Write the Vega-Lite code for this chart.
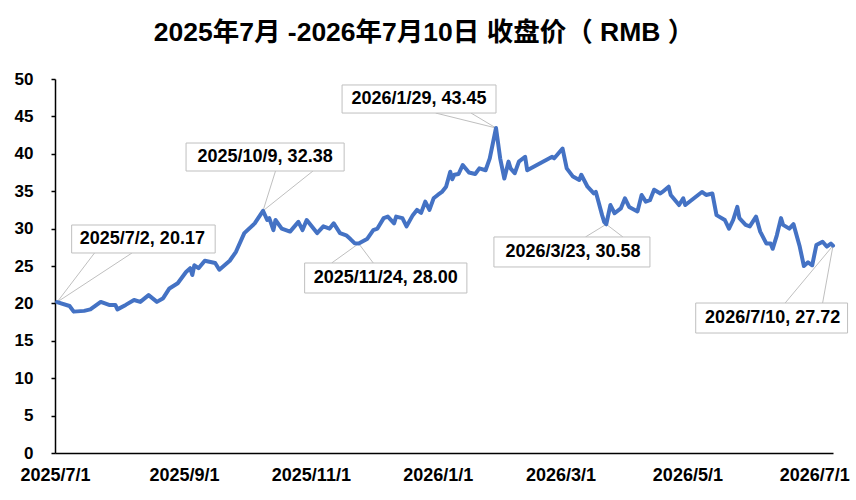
{
  "$schema": "https://vega.github.io/schema/vega-lite/v6.json",
  "autosize": "none",
  "width": 778,
  "height": 374,
  "padding": {"left": 55, "top": 79, "right": 23, "bottom": 47},
  "background": "white",
  "title": {
    "text": "2025年7月 -2026年7月10日 收盘价（ RMB ）",
    "font": "Liberation Sans, Noto Sans CJK SC",
    "fontSize": 26.5,
    "fontWeight": "bold",
    "color": "black",
    "anchor": "middle",
    "frame": "group",
    "dx": -20,
    "offset": 24
  },
  "config": {
    "view": {"stroke": null},
    "font": "Liberation Sans",
    "axis": {
      "domainColor": "black",
      "domainWidth": 1.5,
      "grid": false,
      "labelColor": "black",
      "labelFont": "Liberation Sans",
      "labelFontWeight": "bold",
      "title": null
    }
  },
  "datasets": {
    "price": [
      {"d": "2025/07/02", "p": 20.17},
      {"d": "2025/07/08", "p": 19.65},
      {"d": "2025/07/10", "p": 18.9},
      {"d": "2025/07/15", "p": 19.0},
      {"d": "2025/07/18", "p": 19.2},
      {"d": "2025/07/23", "p": 20.2},
      {"d": "2025/07/27", "p": 19.8},
      {"d": "2025/07/30", "p": 19.8},
      {"d": "2025/07/31", "p": 19.2},
      {"d": "2025/08/04", "p": 19.8},
      {"d": "2025/08/08", "p": 20.45},
      {"d": "2025/08/11", "p": 20.2},
      {"d": "2025/08/15", "p": 21.1},
      {"d": "2025/08/19", "p": 20.2},
      {"d": "2025/08/22", "p": 20.7},
      {"d": "2025/08/25", "p": 22.0},
      {"d": "2025/08/29", "p": 22.7},
      {"d": "2025/09/02", "p": 24.2},
      {"d": "2025/09/04", "p": 24.7},
      {"d": "2025/09/05", "p": 23.8},
      {"d": "2025/09/06", "p": 25.1},
      {"d": "2025/09/08", "p": 24.7},
      {"d": "2025/09/11", "p": 25.7},
      {"d": "2025/09/16", "p": 25.4},
      {"d": "2025/09/18", "p": 24.5},
      {"d": "2025/09/23", "p": 25.7},
      {"d": "2025/09/26", "p": 26.9},
      {"d": "2025/09/30", "p": 29.4},
      {"d": "2025/10/05", "p": 30.7},
      {"d": "2025/10/09", "p": 32.38},
      {"d": "2025/10/11", "p": 31.15},
      {"d": "2025/10/12", "p": 31.4},
      {"d": "2025/10/14", "p": 29.8},
      {"d": "2025/10/15", "p": 31.15},
      {"d": "2025/10/18", "p": 30.0},
      {"d": "2025/10/22", "p": 29.6},
      {"d": "2025/10/26", "p": 30.9},
      {"d": "2025/10/28", "p": 29.8},
      {"d": "2025/10/30", "p": 31.15},
      {"d": "2025/11/04", "p": 29.4},
      {"d": "2025/11/07", "p": 30.3},
      {"d": "2025/11/10", "p": 30.0},
      {"d": "2025/11/12", "p": 30.7},
      {"d": "2025/11/15", "p": 29.4},
      {"d": "2025/11/18", "p": 29.1},
      {"d": "2025/11/20", "p": 28.6},
      {"d": "2025/11/22", "p": 28.05},
      {"d": "2025/11/24", "p": 28.0},
      {"d": "2025/11/28", "p": 28.6},
      {"d": "2025/12/01", "p": 29.8},
      {"d": "2025/12/03", "p": 30.0},
      {"d": "2025/12/06", "p": 31.4},
      {"d": "2025/12/08", "p": 31.6},
      {"d": "2025/12/11", "p": 30.7},
      {"d": "2025/12/12", "p": 31.6},
      {"d": "2025/12/15", "p": 31.4},
      {"d": "2025/12/17", "p": 30.3},
      {"d": "2025/12/20", "p": 31.8},
      {"d": "2025/12/22", "p": 32.5},
      {"d": "2025/12/24", "p": 32.1},
      {"d": "2025/12/26", "p": 33.6},
      {"d": "2025/12/28", "p": 32.5},
      {"d": "2025/12/30", "p": 34.05},
      {"d": "2026/01/01", "p": 34.5},
      {"d": "2026/01/03", "p": 34.9},
      {"d": "2026/01/05", "p": 35.6},
      {"d": "2026/01/07", "p": 37.6},
      {"d": "2026/01/08", "p": 36.6},
      {"d": "2026/01/09", "p": 37.2},
      {"d": "2026/01/11", "p": 37.3},
      {"d": "2026/01/13", "p": 38.5},
      {"d": "2026/01/16", "p": 37.5},
      {"d": "2026/01/19", "p": 37.3},
      {"d": "2026/01/21", "p": 38.05},
      {"d": "2026/01/24", "p": 37.8},
      {"d": "2026/01/26", "p": 39.4},
      {"d": "2026/01/29", "p": 43.45},
      {"d": "2026/01/31", "p": 39.4},
      {"d": "2026/02/02", "p": 36.7},
      {"d": "2026/02/04", "p": 38.95},
      {"d": "2026/02/05", "p": 38.05},
      {"d": "2026/02/07", "p": 37.4},
      {"d": "2026/02/09", "p": 38.95},
      {"d": "2026/02/12", "p": 39.6},
      {"d": "2026/02/13", "p": 37.8},
      {"d": "2026/02/25", "p": 39.6},
      {"d": "2026/02/26", "p": 39.4},
      {"d": "2026/03/02", "p": 40.7},
      {"d": "2026/03/04", "p": 38.05},
      {"d": "2026/03/07", "p": 36.95},
      {"d": "2026/03/10", "p": 36.5},
      {"d": "2026/03/11", "p": 37.2},
      {"d": "2026/03/14", "p": 35.6},
      {"d": "2026/03/17", "p": 34.7},
      {"d": "2026/03/18", "p": 34.9},
      {"d": "2026/03/21", "p": 31.8},
      {"d": "2026/03/22", "p": 30.9},
      {"d": "2026/03/23", "p": 30.58},
      {"d": "2026/03/25", "p": 33.15},
      {"d": "2026/03/27", "p": 32.05},
      {"d": "2026/03/30", "p": 32.7},
      {"d": "2026/04/01", "p": 34.05},
      {"d": "2026/04/03", "p": 32.9},
      {"d": "2026/04/07", "p": 32.3},
      {"d": "2026/04/09", "p": 34.5},
      {"d": "2026/04/11", "p": 33.6},
      {"d": "2026/04/13", "p": 33.8},
      {"d": "2026/04/15", "p": 35.2},
      {"d": "2026/04/18", "p": 34.7},
      {"d": "2026/04/19", "p": 34.9},
      {"d": "2026/04/22", "p": 35.6},
      {"d": "2026/04/23", "p": 34.5},
      {"d": "2026/04/27", "p": 33.15},
      {"d": "2026/04/29", "p": 34.05},
      {"d": "2026/04/30", "p": 33.15},
      {"d": "2026/05/08", "p": 34.9},
      {"d": "2026/05/10", "p": 34.5},
      {"d": "2026/05/13", "p": 34.7},
      {"d": "2026/05/15", "p": 31.8},
      {"d": "2026/05/19", "p": 31.15},
      {"d": "2026/05/21", "p": 30.0},
      {"d": "2026/05/23", "p": 31.15},
      {"d": "2026/05/25", "p": 32.9},
      {"d": "2026/05/26", "p": 31.4},
      {"d": "2026/05/29", "p": 30.5},
      {"d": "2026/05/31", "p": 30.3},
      {"d": "2026/06/03", "p": 31.6},
      {"d": "2026/06/05", "p": 29.6},
      {"d": "2026/06/08", "p": 28.0},
      {"d": "2026/06/10", "p": 28.0},
      {"d": "2026/06/11", "p": 27.3},
      {"d": "2026/06/13", "p": 29.1},
      {"d": "2026/06/15", "p": 31.4},
      {"d": "2026/06/16", "p": 30.5},
      {"d": "2026/06/19", "p": 30.0},
      {"d": "2026/06/21", "p": 30.6},
      {"d": "2026/06/24", "p": 27.6},
      {"d": "2026/06/26", "p": 25.0},
      {"d": "2026/06/28", "p": 25.5},
      {"d": "2026/06/30", "p": 25.1},
      {"d": "2026/07/02", "p": 27.8},
      {"d": "2026/07/05", "p": 28.25},
      {"d": "2026/07/07", "p": 27.6},
      {"d": "2026/07/09", "p": 28.0},
      {"d": "2026/07/10", "p": 27.72}
    ],
    "notes": [
      {"label": "2025/7/2, 20.17", "left": "2025/07/09", "right": "2025/09/16", "top": 30.48, "bottom": 26.74, "cx": "2025/08/12", "cy": 28.6},
      {"label": "2025/10/9, 32.38", "left": "2025/09/02", "right": "2025/11/17", "top": 41.44, "bottom": 37.7, "cx": "2025/10/10", "cy": 39.57},
      {"label": "2026/1/29, 43.45", "left": "2025/11/16", "right": "2026/01/29", "top": 49.2, "bottom": 45.45, "cx": "2025/12/23", "cy": 47.33},
      {"label": "2025/11/24, 28.00", "left": "2025/10/29", "right": "2026/01/15", "top": 25.4, "bottom": 21.39, "cx": "2025/12/07", "cy": 23.4},
      {"label": "2026/3/23, 30.58", "left": "2026/01/28", "right": "2026/04/13", "top": 28.88, "bottom": 24.87, "cx": "2026/03/07", "cy": 26.87},
      {"label": "2026/7/10, 27.72", "left": "2026/05/05", "right": "2026/07/17", "top": 20.05, "bottom": 16.04, "cx": "2026/06/11", "cy": 18.05}
    ],
    "leaders": [
      {"from": "2025/07/20", "fromP": 26.74, "to": "2025/07/02", "toP": 20.17},
      {"from": "2025/08/07", "fromP": 26.74, "to": "2025/07/02", "toP": 20.17},
      {"from": "2025/10/15", "fromP": 37.7, "to": "2025/10/09", "toP": 32.38},
      {"from": "2025/11/02", "fromP": 37.7, "to": "2025/10/09", "toP": 32.38},
      {"from": "2025/12/31", "fromP": 45.45, "to": "2026/01/29", "toP": 43.45},
      {"from": "2026/01/17", "fromP": 45.45, "to": "2026/01/29", "toP": 43.45},
      {"from": "2025/11/11", "fromP": 25.4, "to": "2025/11/24", "toP": 28.0},
      {"from": "2025/12/01", "fromP": 25.4, "to": "2025/11/24", "toP": 28.0},
      {"from": "2026/03/13", "fromP": 28.88, "to": "2026/03/23", "toP": 30.58},
      {"from": "2026/03/31", "fromP": 28.88, "to": "2026/03/23", "toP": 30.58},
      {"from": "2026/06/17", "fromP": 20.05, "to": "2026/07/10", "toP": 27.72},
      {"from": "2026/07/05", "fromP": 20.05, "to": "2026/07/10", "toP": 27.72}
    ]
  },
  "encoding": {
    "x": {
      "type": "temporal",
      "scale": {
        "domain": [
          {"year": 2025, "month": 7, "date": 1},
          {"year": 2026, "month": 7, "date": 10}
        ],
        "nice": false
      },
      "axis": {
        "values": [
          {"year": 2025, "month": 7, "date": 1},
          {"year": 2025, "month": 9, "date": 1},
          {"year": 2025, "month": 11, "date": 1},
          {"year": 2026, "month": 1, "date": 1},
          {"year": 2026, "month": 3, "date": 1},
          {"year": 2026, "month": 5, "date": 1},
          {"year": 2026, "month": 7, "date": 1}
        ],
        "format": "%Y/%-m/%-d",
        "labelFontSize": 18,
        "labelPadding": 13,
        "ticks": false,
        "tickSize": 0,
        "labelFlush": false,
        "labelOverlap": false,
        "labelAlign": "center"
      }
    },
    "y": {
      "type": "quantitative",
      "scale": {"domain": [0, 50], "nice": false},
      "axis": {
        "values": [0, 5, 10, 15, 20, 25, 30, 35, 40, 45, 50],
        "labelFontSize": 17,
        "tickSize": 4,
        "tickColor": "black",
        "tickWidth": 1.5,
        "labelPadding": 18
      }
    }
  },
  "layer": [
    {
      "data": {"name": "leaders"},
      "mark": {"type": "rule", "color": "#BFBFBF", "strokeWidth": 1},
      "encoding": {
        "x": {"field": "from", "type": "temporal"},
        "y": {"field": "fromP", "type": "quantitative"},
        "x2": {"field": "to"},
        "y2": {"field": "toP"}
      }
    },
    {
      "data": {"name": "price"},
      "mark": {"type": "line", "color": "#4472C4", "strokeWidth": 4, "strokeJoin": "round", "strokeCap": "round"},
      "encoding": {
        "x": {"field": "d", "type": "temporal"},
        "y": {"field": "p", "type": "quantitative"}
      }
    },
    {
      "data": {"name": "notes"},
      "mark": {"type": "rect", "fill": "white", "stroke": "#BFBFBF", "strokeWidth": 1},
      "encoding": {
        "x": {"field": "left", "type": "temporal"},
        "x2": {"field": "right"},
        "y": {"field": "top", "type": "quantitative"},
        "y2": {"field": "bottom"}
      }
    },
    {
      "data": {"name": "notes"},
      "mark": {"type": "text", "font": "Liberation Sans", "fontSize": 18, "fontWeight": "bold", "color": "black", "align": "center", "baseline": "middle"},
      "encoding": {
        "x": {"field": "cx", "type": "temporal"},
        "y": {"field": "cy", "type": "quantitative"},
        "text": {"field": "label"}
      }
    }
  ]
}
